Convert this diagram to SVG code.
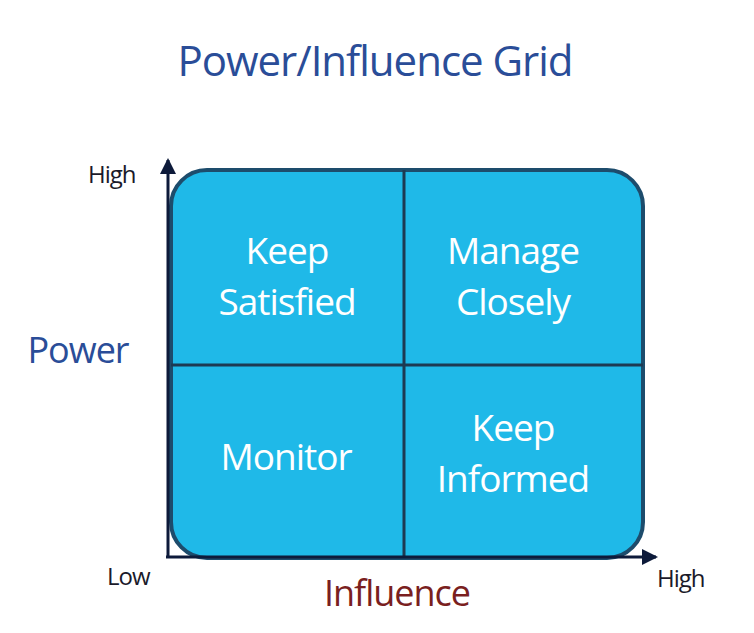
<svg xmlns="http://www.w3.org/2000/svg" width="754" height="633" viewBox="0 0 754 633">
<style>
.cell{font-family:"Open Sans","Liberation Sans",sans-serif;font-size:37px;fill:#ffffff;text-anchor:middle;letter-spacing:-1px}
.tick{font-family:"Open Sans","Liberation Sans",sans-serif;font-size:24px;fill:#1a1a2a;letter-spacing:-1px}
.axis{stroke:#0d1a3a;stroke-width:3;fill:none}
</style>
<defs><marker id="ah" markerWidth="8" markerHeight="8" refX="7" refY="4" orient="auto" markerUnits="userSpaceOnUse" viewBox="0 0 8 8"><path d="M0,0 L8,4 L0,8 z" fill="#0d1a3a"/></marker>
<marker id="ah2" markerWidth="16" markerHeight="16" refX="14" refY="8" orient="auto" markerUnits="userSpaceOnUse"><path d="M0,0 L16,8 L0,16 z" fill="#0d1a3a"/></marker></defs>
<rect width="754" height="633" fill="#ffffff"/>
<text x="375" y="76" font-family="'Open Sans','Liberation Sans',sans-serif" font-size="42" fill="#2a4d98" text-anchor="middle" letter-spacing="-1">Power/Influence Grid</text>
<g id="grid">
<rect x="171" y="170" width="472" height="388" rx="36" fill="#1fb9e8" stroke="#1d4c6c" stroke-width="4"/>
<line x1="404" y1="170" x2="404" y2="558" stroke="#1d3a52" stroke-width="3"/>
<line x1="171" y1="365" x2="643" y2="365" stroke="#1d3a52" stroke-width="3"/>
</g>
<g id="keep-satisfied"><text class="cell" x="287" y="264">Keep</text><text class="cell" x="287" y="315">Satisfied</text></g>
<g id="manage-closely"><text class="cell" x="513" y="264">Manage</text><text class="cell" x="513" y="315">Closely</text></g>
<g id="monitor"><text class="cell" x="286" y="470">Monitor</text></g>
<g id="keep-informed"><text class="cell" x="513" y="441">Keep</text><text class="cell" x="513" y="492">Informed</text></g>
<g id="connectors">
<line class="axis" x1="168" y1="557" x2="168" y2="160" marker-end="url(#ah2)"/>
<line class="axis" x1="166" y1="557" x2="656" y2="557" marker-end="url(#ah2)"/>
</g>
<text class="tick" x="88" y="183">High</text>
<text class="tick" x="107" y="585">Low</text>
<text class="tick" x="657" y="587">High</text>
<text x="78" y="363" font-family="'Open Sans','Liberation Sans',sans-serif" font-size="36" fill="#2a4d98" text-anchor="middle" letter-spacing="-1">Power</text>
<text x="397" y="606" font-family="'Open Sans','Liberation Sans',sans-serif" font-size="36" fill="#7a1f1f" text-anchor="middle" letter-spacing="-1">Influence</text>
</svg>
